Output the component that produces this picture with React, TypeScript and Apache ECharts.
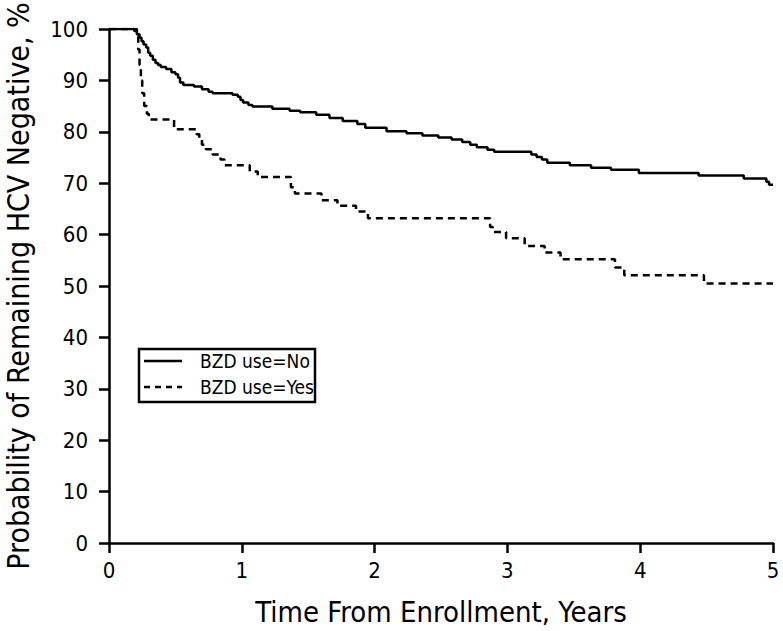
import React, { useEffect, useRef } from "react";
import * as echarts from "echarts";

const xTicks = [0, 1, 2, 3, 4, 5];
const yTicks = [0, 10, 20, 30, 40, 50, 60, 70, 80, 90, 100];

const seriesNames = ["BZD use=No", "BZD use=Yes"];

const noTimes = [0, 0.19, 0.21, 0.23, 0.245, 0.26, 0.28, 0.295, 0.31, 0.33, 0.35, 0.37, 0.39, 0.43, 0.47, 0.5, 0.52, 0.535, 0.56, 0.64, 0.7, 0.75, 0.78, 0.93, 0.97, 0.99, 1.01, 1.05, 1.08, 1.23, 1.36, 1.44, 1.56, 1.66, 1.76, 1.87, 1.93, 2.09, 2.24, 2.36, 2.48, 2.58, 2.66, 2.72, 2.77, 2.85, 2.9, 3.18, 3.22, 3.26, 3.3, 3.47, 3.63, 3.78, 3.99, 4.44, 4.78, 4.95, 4.97, 5.0];
const noValues = [100, 99.6, 99.0, 98.3, 97.6, 97.0, 96.4, 95.4, 94.8, 94.0, 93.4, 93.0, 92.6, 92.2, 91.6, 91.2, 90.5, 89.6, 89.1, 88.8, 88.3, 87.8, 87.5, 87.2, 86.8, 86.2, 85.7, 85.2, 84.9, 84.5, 84.1, 83.8, 83.3, 82.7, 82.1, 81.5, 80.8, 80.1, 79.7, 79.3, 78.9, 78.5, 78.0, 77.5, 77.0, 76.5, 76.1, 75.6, 75.1, 74.6, 74.0, 73.5, 73.0, 72.6, 72.0, 71.5, 70.9, 70.3, 69.7, 69.7];

const yesTimes = [0, 0.2, 0.21, 0.22, 0.23, 0.24, 0.25, 0.265, 0.285, 0.3, 0.49, 0.66, 0.68, 0.7, 0.73, 0.78, 0.84, 0.87, 1.06, 1.12, 1.37, 1.4, 1.6, 1.72, 1.86, 1.95, 2.87, 2.89, 2.99, 3.13, 3.28, 3.4, 3.81, 3.88, 4.48, 5.0];
const yesValues = [100, 100, 98.5, 96, 93, 90, 87.5, 85, 83.5, 82.4, 80.5, 79.5, 78.5, 77.5, 76.6, 75.6, 74.6, 73.5, 72.3, 71.2, 69.2, 68.0, 66.7, 65.6, 64.5, 63.2, 61.5, 60.5, 59.3, 57.8, 56.5, 55.2, 53.6, 52.1, 50.5, 50.5];

const FONT = "'Liberation Sans Narrow', 'DejaVu Sans Condensed', 'Arial Narrow', sans-serif";

export default function App() {
  const ref = useRef<HTMLDivElement>(null);
  useEffect(() => {
    if (!ref.current) return;
    const chart = echarts.init(ref.current, null, { renderer: "svg" });
    const axisCommon = {
      axisLine: { show: true, lineStyle: { color: "#000", width: 2.5 } },
      axisTick: { show: true, inside: false, length: 10, lineStyle: { color: "#000", width: 2.5 } },
      splitLine: { show: false },
    };
    chart.setOption({
      animation: false,
      backgroundColor: "#fff",
      grid: { left: 109, right: 10, top: 29, bottom: 88, containLabel: false, outerBoundsMode: "none" },
      xAxis: {
        type: "value",
        min: xTicks[0],
        max: xTicks[xTicks.length - 1],
        interval: 1,
        ...axisCommon,
        axisLabel: { color: "#000", fontSize: 22, fontFamily: FONT, margin: 16 },
        name: "Time From Enrollment, Years",
        nameLocation: "middle",
        nameGap: 54,
        nameTextStyle: { color: "#000", fontSize: 29, fontFamily: FONT },
      },
      yAxis: {
        type: "value",
        min: yTicks[0],
        max: yTicks[yTicks.length - 1],
        interval: 10,
        ...axisCommon,
        axisLabel: { color: "#000", fontSize: 22, fontFamily: FONT, margin: 21 },
        name: "Probability of Remaining HCV Negative, %",
        nameLocation: "middle",
        nameGap: 76,
        nameTextStyle: { color: "#000", fontSize: 30, fontFamily: FONT },
      },
      series: [
        {
          name: seriesNames[0],
          type: "line",
          step: "end",
          symbol: "none",
          data: noTimes.map((t, i) => [t, noValues[i]]),
          lineStyle: { color: "#000", width: 2.5 },
        },
        {
          name: seriesNames[1],
          type: "line",
          step: "end",
          symbol: "none",
          data: yesTimes.map((t, i) => [t, yesValues[i]]),
          lineStyle: { color: "#000", width: 2.5, type: [7, 5] },
        },
      ],
      graphic: [
        {
          type: "rect",
          z: 100,
          shape: { x: 139, y: 349, width: 176, height: 53 },
          style: { fill: "#fff", stroke: "#000", lineWidth: 2.5 },
        },
        {
          type: "line",
          z: 101,
          shape: { x1: 144, y1: 361, x2: 182, y2: 361 },
          style: { stroke: "#000", lineWidth: 2.5 },
        },
        {
          type: "line",
          z: 101,
          shape: { x1: 144, y1: 387, x2: 182, y2: 387 },
          style: { stroke: "#000", lineWidth: 2.5, lineDash: [6, 5] },
        },
        {
          type: "text",
          z: 101,
          x: 200,
          y: 361,
          style: { text: seriesNames[0], fill: "#000", fontSize: 19, fontFamily: FONT, verticalAlign: "middle" },
        },
        {
          type: "text",
          z: 101,
          x: 200,
          y: 387,
          style: { text: seriesNames[1], fill: "#000", fontSize: 19, fontFamily: FONT, verticalAlign: "middle" },
        },
      ],
    });
    return () => chart.dispose();
  }, []);
  return <div ref={ref} style={{ position: "fixed", left: 0, top: 0, width: 783, height: 631 }} />;
}
